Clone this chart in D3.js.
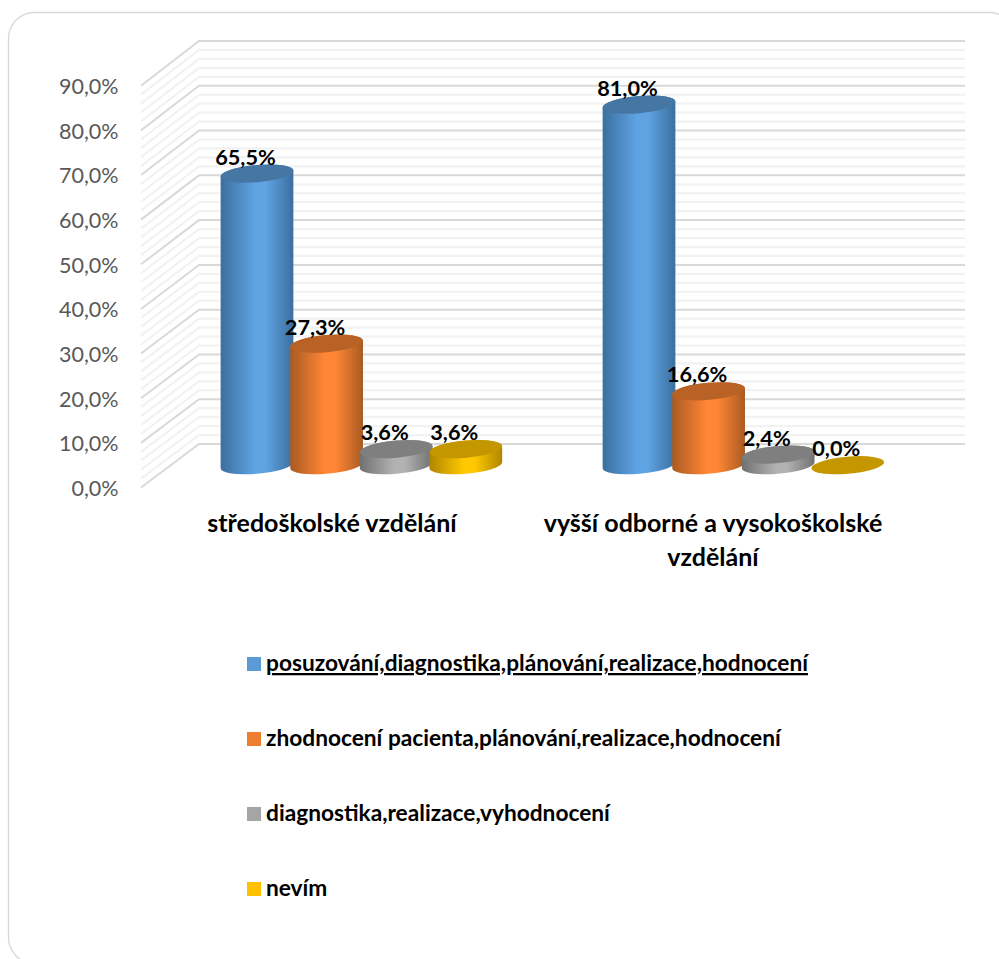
<!DOCTYPE html>
<html>
<head>
<meta charset="utf-8">
<style>
  html, body { margin: 0; padding: 0; background: #fff; overflow: hidden; }
  svg { display: block; }
  text { font-family: Lato, "Open Sans", sans-serif; }
</style>
<script src="https://cdnjs.cloudflare.com/ajax/libs/d3/7.8.5/d3.min.js"></script>
</head>
<body>
<svg id="chart" width="999" height="959"></svg>
<script>
// Survey answers by education level, in percent
const educationLevels = ["středoškolské vzdělání", "vyšší odborné a vysokoškolské vzdělání"];
const answerOptions = [
  "posuzování,diagnostika,plánování,realizace,hodnocení",
  "zhodnocení pacienta,plánování,realizace,hodnocení",
  "diagnostika,realizace,vyhodnocení",
  "nevím"
];
const secondaryValues = [65.5, 27.3, 3.6, 3.6];
const higherValues = [81.0, 16.6, 2.4, 0.0];
const axisTicks = [0, 10, 20, 30, 40, 50, 60, 70, 80, 90];
const minorTicks = d3.range(0, 90.1, 2);

// side / centre / top face shades for each answer
const palette = [
  { side: "#3b6f9f", mid: "#5fa3e3", top: "#4576a4", key: "#5b9bd5" },
  { side: "#a95a22", mid: "#ff8635", top: "#b96226", key: "#ed7d31" },
  { side: "#707070", mid: "#b2b2b2", top: "#7f7f7f", key: "#a5a5a5" },
  { side: "#b08600", mid: "#ffc800", top: "#c49600", key: "#ffc000" }
];

const fmt = v => v.toFixed(1).replace(".", ",") + "%";
const svg = d3.select("#chart");
const defs = svg.append("defs");

palette.forEach((p, i) => {
  const g = defs.append("linearGradient").attr("id", "cyl" + i)
    .attr("x1", 0).attr("x2", 1).attr("y1", 0).attr("y2", 0);
  g.append("stop").attr("offset", 0).attr("stop-color", p.side);
  g.append("stop").attr("offset", 0.47).attr("stop-color", p.mid);
  g.append("stop").attr("offset", 0.62).attr("stop-color", p.mid);
  g.append("stop").attr("offset", 1).attr("stop-color", p.side);
});

// card frame, running past the right and bottom edges of the page
svg.append("rect").attr("x", 8.5).attr("y", 12.5).attr("width", 1007).attr("height", 951)
  .attr("rx", 26).attr("fill", "#fff").attr("stroke", "#d9d9d9").attr("stroke-width", 1.4);

// three parallel value scales: front edge, bar plane, back wall
const yFront = d3.scaleLinear().domain([0, 90]).range([487.5, 85.7]);
const yBack = d3.scaleLinear().domain([0, 90]).range([444, 41]);
const yBar = d3.scaleLinear().domain([0, 90]).range([465.2, 64.5]);
const xWall = { front: 141, back: 199, end: 965 };

const grid = svg.append("g").attr("fill", "none");
const gridPath = v => `M${xWall.front},${yFront(v)}L${xWall.back},${yBack(v)}L${xWall.end},${yBack(v)}`;
grid.selectAll("path.minor").data(minorTicks.filter(v => v % 10 !== 0)).join("path")
  .attr("class", "minor").attr("d", gridPath).attr("stroke", "#f2f2f2").attr("stroke-width", 2.2);
grid.selectAll("path.major").data(axisTicks).join("path")
  .attr("class", "major").attr("d", gridPath).attr("stroke", "#d9d9d9").attr("stroke-width", 2);

// value labels
svg.append("g").selectAll("text").data(axisTicks).join("text")
  .attr("x", 118.5).attr("y", d => yFront(d) + 8.5)
  .attr("text-anchor", "end").attr("font-size", 21.5).attr("fill", "#595959")
  .text(fmt);

// bar centres
const barStart = [257, 639];
const barStep = 69.6;
const barX = d3.scaleLinear().domain([0, 1]).range([0, barStep]);
const rx = 36.5, ry = 8.6, tilt = -5 * Math.PI / 180;
const cosT = Math.cos(tilt), sinT = Math.sin(tilt);
// horizontal and vertical offset of the ellipse's leftmost/rightmost point
const tangent = Math.atan2(-ry * sinT, rx * cosT);
const edgeX = rx * Math.cos(tangent) * cosT - ry * Math.sin(tangent) * sinT;
const edgeY = rx * Math.cos(tangent) * sinT + ry * Math.sin(tangent) * cosT;

function sidePath(cx, top, base) {
  const deg = tilt * 180 / Math.PI;
  return `M${cx - edgeX},${top - edgeY}L${cx - edgeX},${base - edgeY}` +
    `A${rx},${ry} ${deg} 0 0 ${cx + edgeX},${base + edgeY}` +
    `L${cx + edgeX},${top + edgeY}` +
    `A${rx},${ry} ${deg} 0 0 ${cx - edgeX},${top - edgeY}Z`;
}

const rows = [secondaryValues, higherValues];
const bars = svg.append("g");
rows.forEach((vals, r) => {
  const items = vals.map((v, i) => ({ v, i, cx: barStart[r] + barX(i) }));
  const grp = bars.append("g");
  const each = grp.selectAll("g").data(items).join("g");
  each.filter(d => d.v > 0).append("path")
    .attr("d", d => sidePath(d.cx, yBar(d.v), yBar(0)))
    .attr("fill", d => `url(#cyl${d.i})`);
  each.append("ellipse")
    .attr("rx", rx).attr("ry", ry)
    .attr("transform", d => `translate(${d.cx},${yBar(d.v)}) rotate(${tilt * 180 / Math.PI})`)
    .attr("fill", d => palette[d.i].top);
});

// data labels sit above everything
rows.forEach((vals, r) => {
  svg.append("g").selectAll("text").data(vals).join("text")
    .attr("x", (d, i) => barStart[r] + barX(i) - 11.5)
    .attr("y", d => yBar(d) - 9)
    .attr("text-anchor", "middle").attr("font-size", 21.7).attr("font-weight", 700).attr("fill", "#000")
    .text(fmt);
});

// category labels, the long one wraps onto two lines
const catLines = [[educationLevels[0]], ["vyšší odborné a vysokoškolské", "vzdělání"]];
const catX = [332, 713];
catLines.forEach((lines, c) => {
  svg.append("g").selectAll("text").data(lines).join("text")
    .attr("x", catX[c]).attr("y", (d, i) => 532 + i * 34)
    .attr("text-anchor", "middle").attr("font-size", 25).attr("font-weight", 700).attr("fill", "#000")
    .text(d => d);
});

// legend
const legendY = d3.scalePoint().domain(answerOptions).range([664, 889]);
const legend = svg.append("g").selectAll("g").data(answerOptions).join("g")
  .attr("transform", d => `translate(0,${legendY(d)})`);
legend.append("rect").attr("x", 247).attr("y", -7).attr("width", 14).attr("height", 14)
  .attr("fill", (d, i) => palette[i].key);
legend.append("text").attr("x", 266).attr("y", 7)
  .attr("font-size", 22.7).attr("font-weight", 700).attr("fill", "#000")
  .attr("text-decoration", (d, i) => i === 0 ? "underline" : null)
  .text(d => d);
</script>
</body>
</html>
